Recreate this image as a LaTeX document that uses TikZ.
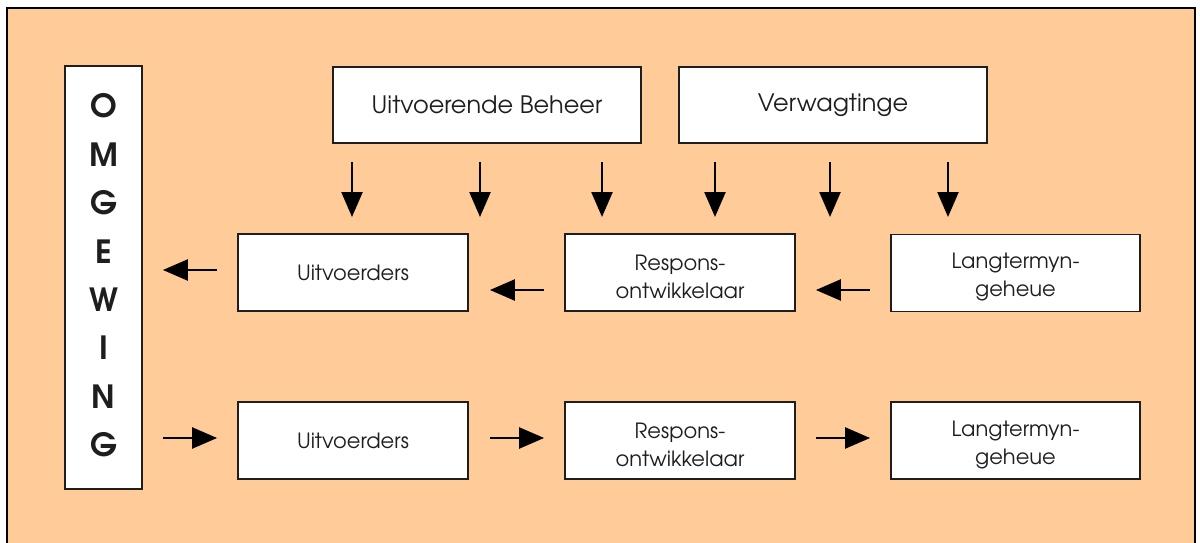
\documentclass[tikz,border=0pt]{standalone}
\usepackage{fontspec}
\setmainfont{TeX Gyre Adventor}
\usetikzlibrary{arrows.meta}
\definecolor{peach}{RGB}{255,204,153}
\definecolor{edge}{RGB}{30,30,30}

\begin{document}
\begin{tikzpicture}[x=1pt,y=-1pt,
  box/.style={draw=edge,line width=1.8pt,fill=white,inner sep=0pt,align=center,text=edge},
  topbox/.style={box,minimum width=308pt,minimum height=76pt,font=\fontsize{24}{28}\selectfont},
  midbox/.style={box,minimum width=230pt,minimum height=77pt,font=\fontsize{21}{28}\selectfont},
  memory/.style={box,minimum width=249pt,minimum height=77pt,font=\fontsize{21}{28}\selectfont},
  twoline/.style={label={[align=center,text=edge,font=\fontsize{21}{28}\selectfont,
                          inner sep=0pt,yshift=-4pt]center:#1}},
  letters/.style={label={[align=center,text=edge,font=\bfseries\fontsize{32}{48.4}\selectfont,
                          inner sep=0pt,yshift=2pt]center:#1}},
  flow/.style={line width=2.4pt,-{Triangle[width=21pt,length=25pt]}},
  across/.style={flow,shorten <=20pt,shorten >=20pt}]
\useasboundingbox (0,0) rectangle (1200,543);
\fill[white] (0,0) rectangle (1200,543);
\begin{scope}
  \clip (0,0) rectangle (1200,543);
  \draw[fill=peach,line width=2pt] (7,8) rectangle (1195,580);
\end{scope}

% environment column
\node[box,minimum width=77pt,minimum height=423pt,
      letters={O\\M\\G\\E\\W\\I\\N\\G}] (omg) at (103.5,277.5) {};

% control boxes
\node[topbox] (beheer) at (487,105) {Uitvoerende Beheer};
\node[topbox] (verw) at (833,105) {Verwagtinge};

% output chain
\node[midbox] (u1) at (353,272.5) {Uitvoerders};
\node[midbox,twoline={Respons-\\ontwikkelaar}] (r1) at (680,272.5) {};
\node[memory,twoline={Langtermyn-\\geheue}] (l1) at (1015.5,273) {};

% input chain
\node[midbox] (u2) at (353,440.5) {Uitvoerders};
\node[midbox,twoline={Respons-\\ontwikkelaar}] (r2) at (680,440.5) {};
\node[memory,twoline={Langtermyn-\\geheue}] (l2) at (1015.5,440.5) {};

% downward influences
\foreach \n/\x in {1/352,2/480,3/602,4/715,5/830,6/948}{
  \coordinate (ds\n) at (\x,162);
  \coordinate (de\n) at (\x,217);
  \draw[flow] (ds\n) -- (de\n);
}

% output flow towards the environment
\draw[across] ([yshift=2.5pt]u1.west) -- ([yshift=2.5pt]u1.west -| omg.east);
\draw[across,shorten >=21pt] ([yshift=-17.5pt]r1.west) -- ([yshift=-17.5pt]r1.west -| u1.east);
\draw[across] ([yshift=-17pt]l1.west) -- ([yshift=-17pt]l1.west -| r1.east);

% input flow from the environment
\draw[across] ([yshift=2.5pt]u2.west -| omg.east) -- ([yshift=2.5pt]u2.west);
\draw[across,shorten <=21pt] ([yshift=2.5pt]r2.west -| u2.east) -- ([yshift=2.5pt]r2.west);
\draw[across] ([yshift=2.5pt]l2.west -| r2.east) -- ([yshift=2.5pt]l2.west);
\end{tikzpicture}
\end{document}
